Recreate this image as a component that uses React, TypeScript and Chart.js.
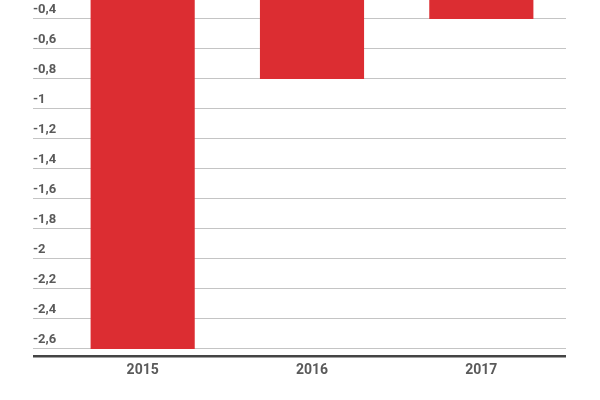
import { Chart, registerables } from 'chart.js';
import { useEffect, useRef } from 'react';

Chart.register(...registerables);

const years = ['2015', '2016', '2017'];
const values = [-2.6, -0.8, -0.4];
const yTicks = [-2.6, -2.4, -2.2, -2, -1.8, -1.6, -1.4, -1.2, -1, -0.8, -0.6, -0.4, -0.2, 0];
const yMin = -2.647;
const yMax = 0;

const labelColor = '#5a5a5a';
const gridColor = '#c4c4c4';
const baseColor = '#444444';
const barColor = '#dc2d32';

export default function App() {
  const canvasRef = useRef<HTMLCanvasElement | null>(null);

  useEffect(() => {
    if (!canvasRef.current) return;

    const isBase = (v: number) => Math.abs(v - yMin) < 1e-6;

    const chart = new Chart(canvasRef.current, {
      type: 'bar',
      data: {
        labels: years,
        datasets: [
          {
            data: values,
            backgroundColor: barColor,
            borderWidth: 0,
            barPercentage: 0.615,
            categoryPercentage: 1,
          },
        ],
      },
      options: {
        animation: false,
        responsive: true,
        maintainAspectRatio: false,
        layout: { autoPadding: false, padding: { left: 33, right: 34, top: 0, bottom: 23 } },
        plugins: {
          legend: { display: false },
          tooltip: { enabled: false },
        },
        scales: {
          x: {
            afterFit: (scale) => {
              scale.height = 21;
              scale.paddingLeft = 0;
              scale.paddingRight = 0;
            },
            grid: { display: false, drawTicks: false },
            border: { display: false },
            ticks: {
              color: labelColor,
              padding: 6,
              font: { family: 'Roboto', size: 14, weight: 'bold' },
            },
          },
          y: {
            min: yMin,
            max: yMax,
            afterBuildTicks: (scale) => {
              scale.ticks = [yMin, ...yTicks].map((v) => ({ value: v }));
            },
            afterFit: (scale) => {
              scale.width = 25;
              scale.paddingTop = 0;
              scale.paddingBottom = 0;
            },
            border: { display: false },
            grid: {
              drawTicks: true,
              tickLength: 25,
              color: (ctx) => (isBase(ctx.tick.value) ? baseColor : gridColor),
              tickColor: (ctx) => (isBase(ctx.tick.value) ? baseColor : gridColor),
              lineWidth: (ctx) => (isBase(ctx.tick.value) ? 2.5 : 1),
              tickWidth: (ctx) => (isBase(ctx.tick.value) ? 2.5 : 1),
            },
            ticks: {
              crossAlign: 'far',
              padding: 0,
              labelOffset: -9,
              color: labelColor,
              font: { family: 'Roboto', size: 13, weight: 'bold' },
              callback: (v) => {
                const n = Number(v);
                if (n === 0) return null;
                if (isBase(n)) return '';
                return String(Math.round(n * 10) / 10).replace('.', ',');
              },
            },
          },
        },
      },
    });

    return () => chart.destroy();
  }, []);

  return (
    <div
      style={{
        position: 'fixed',
        left: 0,
        top: -41,
        width: 600,
        height: 441,
        background: '#ffffff',
      }}
    >
      <canvas ref={canvasRef} />
    </div>
  );
}
